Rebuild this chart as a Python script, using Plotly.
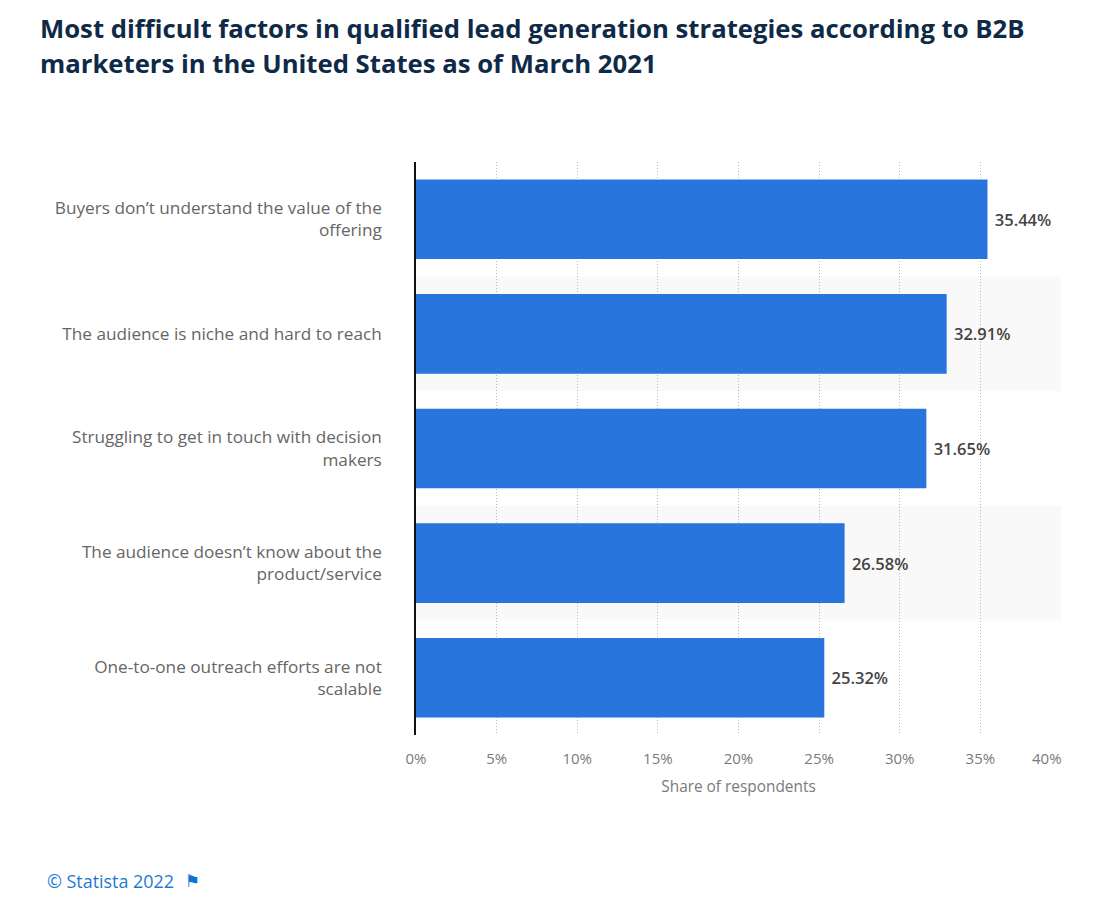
import plotly.graph_objects as go

title_lines = ["Most difficult factors in qualified lead generation strategies according to B2B",
               "marketers in the United States as of March 2021"]
categories = ["Buyers don’t understand the value of the<br>offering",
              "The audience is niche and hard to reach",
              "Struggling to get in touch with decision<br>makers",
              "The audience doesn’t know about the<br>product/service",
              "One-to-one outreach efforts are not<br>scalable"]
values = [35.44, 32.91, 31.65, 26.58, 25.32]
x_ticks = [0, 5, 10, 15, 20, 25, 30, 35, 40]
x_tick_labels = ["0%", "5%", "10%", "15%", "20%", "25%", "30%", "35%", ""]
last_tick_label = "40%"
band_categories = [1, 3]

FONT = "Open Sans"
PW, PH = 645, 573
L, T = 416, 162  # plot-area origin in window pixels

def px_x(p):
    return (p - L) / PW

def px_y(p):
    return 1 - (p - T) / PH

fig = go.Figure(go.Bar(
    x=values, y=categories, orientation="h",
    marker=dict(color="#2975de", line=dict(width=0)),
    text=[f"\u00a0{v:.2f}%" for v in values],
    textposition="outside", cliponaxis=False,
    textfont=dict(family=FONT, size=16.5, color="#444444", weight=600),
    width=0.695, hoverinfo="skip",
))
shapes = [dict(type="rect", xref="x", yref="y", x0=0, x1=40, y0=i - 0.5, y1=i + 0.5,
               fillcolor="#f9f9f9", line_width=0, layer="below") for i in band_categories]
annotations = [
    dict(xref="paper", yref="paper", x=px_x(38), y=px_y(yy), text=t, showarrow=False,
         xanchor="left", yanchor="middle",
         font=dict(family=FONT, size=25.7, color="#0f2a47", weight=700))
    for t, yy in zip(title_lines, [28, 63])
]
annotations += [
    dict(xref="x", yref="paper", x=40, xshift=2.5, y=px_y(757.5), text=last_tick_label, showarrow=False,
         xanchor="right", yanchor="middle", font=dict(size=15, color="#7a7a7a")),
    dict(xref="paper", yref="paper", x=px_x(45), y=px_y(881), text="© Statista 2022",
         showarrow=False, xanchor="left", yanchor="middle",
         font=dict(size=17.9, color="#1f78d1")),
    dict(xref="paper", yref="paper", x=px_x(183), y=px_y(881), text="⚑",
         showarrow=False, xanchor="left", yanchor="middle",
         font=dict(family="DejaVu Sans", size=17, color="#0b72d6")),
]
fig.update_layout(
    width=1084, height=894, autosize=False,
    margin=dict(l=L - 8, r=1084 - (L - 8) - PW, t=T - 8, b=894 - (T - 8) - PH),
    paper_bgcolor="white", plot_bgcolor="white",
    font=dict(family=FONT, color="#666666"),
    showlegend=False, shapes=shapes, annotations=annotations,
    xaxis=dict(range=[0, 40], tickvals=x_ticks, ticktext=x_tick_labels,
               showgrid=True, griddash="1px,2px", gridcolor="#b8b8b8", gridwidth=1,
               zeroline=False, showline=False, ticks="outside", ticklen=10,
               tickcolor="rgba(0,0,0,0)", tickfont=dict(size=15, color="#7a7a7a"),
               title=dict(text="Share of respondents", standoff=14,
                          font=dict(size=15.4, color="#7a7a7a"))),
    yaxis=dict(autorange="reversed", showgrid=False, zeroline=False,
               showline=True, linecolor="#111111", linewidth=1.5,
               ticks="", ticklabelstandoff=29,
               tickfont=dict(size=17.2, color="#666666")),
)
fig.write_html("out.html")
